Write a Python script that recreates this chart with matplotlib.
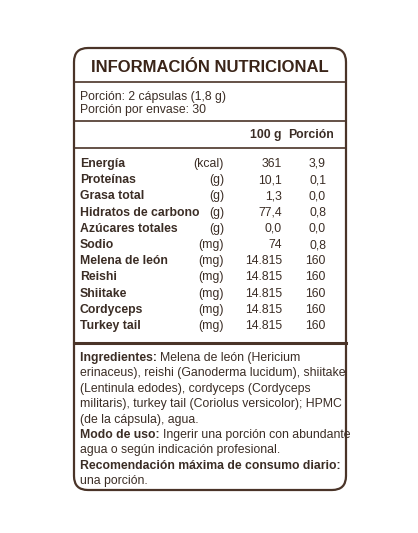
import matplotlib
matplotlib.use("Agg")
import matplotlib.pyplot as plt
from matplotlib.patches import FancyBboxPatch

nutrients = ["Energía", "Proteínas", "Grasa total", "Hidratos de carbono", "Azúcares totales",
             "Sodio", "Melena de león", "Reishi", "Shiitake", "Cordyceps", "Turkey tail"]
units = ["(kcal)", "(g)", "(g)", "(g)", "(g)", "(mg)", "(mg)", "(mg)", "(mg)", "(mg)", "(mg)"]
per100 = ["361", "10,1", "1,3", "77,4", "0,0", "74", "14.815", "14.815", "14.815", "14.815", "14.815"]
perPortion = ["3,9", "0,1", "0,0", "0,8", "0,0", "0,8", "160", "160", "160", "160", "160"]

W, H = 418, 533
fig = plt.figure(figsize=(W/100, H/100), dpi=100)
ax = fig.add_axes([0, 0, 1, 1])
ax.set_xlim(0, W); ax.set_ylim(H, 0); ax.axis("off")

brown = "#4a3428"
txt = "#3b2d25"
ax.add_patch(FancyBboxPatch((74, 48), 272, 442, boxstyle="round,pad=0,rounding_size=14",
                            fill=False, ec=brown, lw=1.6))
for y, lw in [(82, 1.2), (121, 1.2), (148, 1.2), (343, 2.2)]:
    ax.plot([74, 346], [y, y], color=brown, lw=lw)

ax.text(210, 72, "INFORMACIÓN NUTRICIONAL", ha="center", va="baseline", fontsize=12,
        fontweight="bold", color="#3a2418", family="Liberation Sans")
fs = 8.8
kw = dict(va="baseline", fontsize=fs, color=txt, family="Liberation Sans")
off = 4
ax.text(80, 96 + off, "Porción: 2 cápsulas (1,8 g)", **kw)
ax.text(80, 109 + off, "Porción por envase: 30", **kw)
ax.text(282, 134 + off, "100 g", ha="right", fontweight="bold", **kw)
ax.text(334, 134 + off, "Porción", ha="right", fontweight="bold", **kw)

y0, dy = 163, 16.2
for i, (n, u, a, b) in enumerate(zip(nutrients, units, per100, perPortion)):
    y = y0 + i*dy + off
    ax.text(80, y, n, ha="left", fontweight="bold", **kw)
    ax.text(224, y, u, ha="right", **kw)
    ax.text(282, y, a, ha="right", **kw)
    ax.text(326, y, b, ha="right", **kw)

lines = [
    [("Ingredientes: ", True), ("Melena de león (Hericium", False)],
    [("erinaceus), reishi (Ganoderma lucidum), shiitake", False)],
    [("(Lentinula edodes), cordyceps (Cordyceps", False)],
    [("militaris), turkey tail (Coriolus versicolor); HPMC", False)],
    [("(de la cápsula), agua.", False)],
    [("Modo de uso: ", True), ("Ingerir una porción con abundante", False)],
    [("agua o según indicación profesional.", False)],
    [("Recomendación máxima de consumo diario:", True)],
    [("una porción.", False)],
]
fig.canvas.draw()
r = fig.canvas.get_renderer()
for i, parts in enumerate(lines):
    y = 357 + i*15.4 + off
    x = 80
    for s, bold in parts:
        t = ax.text(x, y, s, ha="left", fontweight="bold" if bold else "normal", **kw)
        if bold and len(parts) > 1:
            bb = t.get_window_extent(renderer=r)
            x += bb.width
fig.savefig("out.png", dpi=100, facecolor="white")
